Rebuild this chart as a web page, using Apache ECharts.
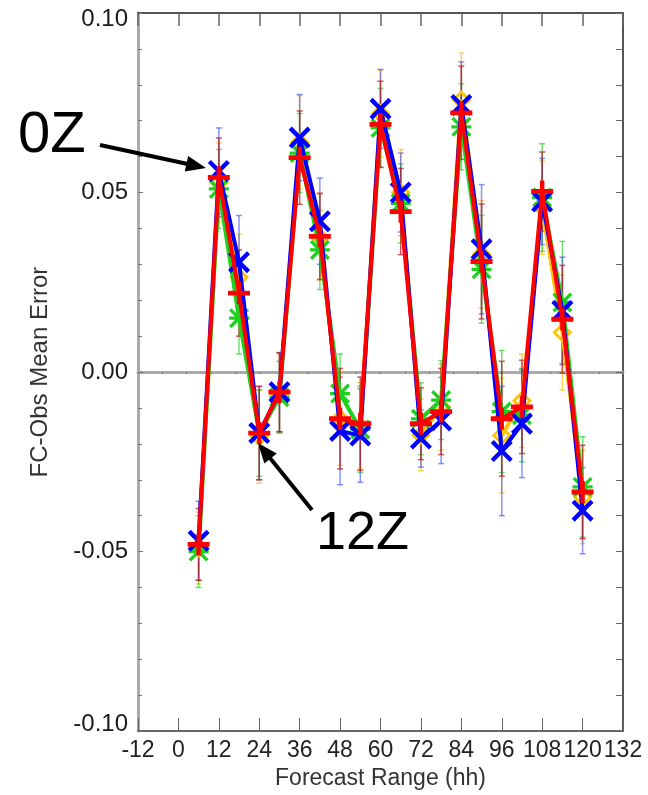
<!DOCTYPE html>
<html>
<head>
<meta charset="utf-8">
<script src="https://cdn.jsdelivr.net/npm/echarts@6/dist/echarts.min.js"></script>
<style>
html, body { margin: 0; padding: 0; background: #fff; }
#chart { width: 648px; height: 795px; }
</style>
</head>
<body>
<div id="chart"></div>
<script>
// forecast range (hh)
const hours = [6, 12, 18, 24, 30, 36, 42, 48, 54, 60, 66, 72, 78, 84, 90, 96, 102, 108, 114, 120];

// mean error per run
const blueMean   = [-0.047, 0.056, 0.0306, -0.017, -0.0056, 0.0653, 0.042, -0.0164, -0.0177, 0.0733, 0.050, -0.0185, -0.0135, 0.0744, 0.0342, -0.022, -0.0144, 0.0475, 0.017, -0.0386];
const redMean    = [-0.048, 0.0542, 0.022, -0.017, -0.0056, 0.0597, 0.0378, -0.013, -0.0144, 0.069, 0.0447, -0.0144, -0.011, 0.0722, 0.0308, -0.013, -0.0097, 0.0503, 0.0147, -0.0334];
const greenMean  = [-0.050, 0.051, 0.015, -0.017, -0.007, 0.061, 0.034, -0.006, -0.016, 0.068, 0.047, -0.013, -0.0078, 0.0683, 0.0286, -0.011, -0.012, 0.0486, 0.0194, -0.032];
const yellowMean = [-0.049, 0.0528, 0.0264, -0.018, -0.006, 0.064, 0.0375, -0.013, -0.015, 0.072, 0.050, -0.0175, -0.0097, 0.0758, 0.0328, -0.0177, -0.008, 0.0458, 0.011, -0.0348];

// half length of the error bars
const blueErr   = [0.011, 0.012, 0.013, 0.013, 0.011, 0.012, 0.012, 0.015, 0.013, 0.011, 0.011, 0.008, 0.012, 0.012, 0.018, 0.018, 0.015, 0.012, 0.015, 0.012];
const redErr    = [0.010, 0.011, 0.012, 0.013, 0.011, 0.013, 0.012, 0.014, 0.013, 0.012, 0.012, 0.010, 0.012, 0.013, 0.016, 0.016, 0.013, 0.011, 0.015, 0.013];
const greenErr  = [0.010, 0.011, 0.010, 0.012, 0.010, 0.011, 0.011, 0.011, 0.012, 0.011, 0.011, 0.010, 0.011, 0.012, 0.015, 0.017, 0.013, 0.015, 0.017, 0.014];
const yellowErr = [0.010, 0.011, 0.012, 0.013, 0.011, 0.013, 0.012, 0.013, 0.012, 0.012, 0.012, 0.010, 0.012, 0.013, 0.015, 0.016, 0.013, 0.013, 0.016, 0.013];

// marker shapes (IDL style psym)
const symX = 'path://M0,14 L14,0 L100,86 L86,100 Z M86,0 L100,14 L14,100 L0,86 Z';
const symPlus = 'path://M0,39 L100,39 L100,61 L0,61 Z M40,0 L60,0 L60,100 L40,100 Z';
const symStar = 'path://M0,12 L12,0 L100,88 L88,100 Z M88,0 L100,12 L12,100 L0,88 Z M0,42 L100,42 L100,58 L0,58 Z';
const symDiamond = 'path://M50,0 L100,50 L50,100 L0,50 Z M50,20 L20,50 L50,80 L80,50 Z';

const plain = '"Liberation Sans", Arial, sans-serif';

function errorBars(means, errs, color, z) {
    return {
        type: 'custom',
        z: z,
        silent: true,
        animation: false,
        data: hours.map((h, i) => [h, means[i] - errs[i], means[i] + errs[i]]),
        encode: { x: 0, y: [1, 2] },
        renderItem: function (params, api) {
            let lo = api.coord([api.value(0), api.value(1)]);
            let hi = api.coord([api.value(0), api.value(2)]);
            let cap = 3;
            let st = { stroke: color, lineWidth: 1.5 };
            return {
                type: 'group',
                children: [
                    { type: 'line', shape: { x1: lo[0], y1: lo[1], x2: hi[0], y2: hi[1] }, style: st },
                    { type: 'line', shape: { x1: lo[0] - cap, y1: lo[1], x2: lo[0] + cap, y2: lo[1] }, style: st },
                    { type: 'line', shape: { x1: hi[0] - cap, y1: hi[1], x2: hi[0] + cap, y2: hi[1] }, style: st }
                ]
            };
        }
    };
}

function meanLine(means, color, symbol, size, z) {
    return {
        type: 'line',
        z: z,
        animation: false,
        data: hours.map((h, i) => [h, means[i]]),
        symbol: symbol,
        symbolSize: size,
        showAllSymbol: true,
        lineStyle: { color: color, width: 4 },
        itemStyle: { color: color },
        emphasis: { disabled: true }
    };
}

function arrowHead(x1, y1, x2, y2, len, half) {
    let dx = x2 - x1, dy = y2 - y1;
    let d = Math.sqrt(dx * dx + dy * dy);
    let ux = dx / d, uy = dy / d;
    let bx = x2 - ux * len, by = y2 - uy * len;
    return [[x2, y2], [bx - uy * half, by + ux * half], [bx + uy * half, by - ux * half]];
}

function arrow(x1, y1, x2, y2) {
    let dx = x2 - x1, dy = y2 - y1;
    let d = Math.sqrt(dx * dx + dy * dy);
    let ex = x2 - dx / d * 14, ey = y2 - dy / d * 14;
    return [
        { type: 'line', shape: { x1: x1, y1: y1, x2: ex, y2: ey }, style: { stroke: '#000', lineWidth: 4 }, z: 100 },
        { type: 'polygon', shape: { points: arrowHead(x1, y1, x2, y2, 20, 8) }, style: { fill: '#000' }, z: 100 }
    ];
}

function yLabel(v) {
    if (Math.abs(v) < 1e-9) return '0.00';
    if (v > 0.099) return '{top|' + v.toFixed(2) + '}';
    if (v < -0.099) return '{bot|' + v.toFixed(2) + '}';
    return v.toFixed(2);
}

const chart = echarts.init(document.getElementById('chart'), null, { renderer: 'canvas' });

chart.setOption({
    animation: false,
    backgroundColor: '#fff',
    grid: { left: 138, top: 13, right: 25, bottom: 62, containLabel: false },
    xAxis: [
        {
            type: 'value', position: 'bottom', min: -12, max: 132, interval: 12,
            name: 'Forecast Range (hh)', nameLocation: 'middle', nameGap: 30,
            nameTextStyle: { fontFamily: plain, fontSize: 23, color: '#333' },
            axisLine: { onZero: false, lineStyle: { color: '#666', width: 2 } },
            axisTick: { inside: true, length: 13, lineStyle: { color: '#666', width: 1 } },
            axisLabel: { fontFamily: plain, fontSize: 23, color: '#222', margin: 8 },
            splitLine: { show: false }
        },
        {
            type: 'value', position: 'top', min: -12, max: 132, interval: 12,
            axisLine: { onZero: false, lineStyle: { color: '#555', width: 2 } },
            axisTick: { inside: true, length: 13, lineStyle: { color: '#666', width: 1.5 } },
            axisLabel: { show: false },
            splitLine: { show: false }
        },
        {
            // the zero line with its small ticks
            type: 'value', position: 'bottom', min: 0, max: 20, interval: 1,
            axisLine: { onZero: true, onZeroAxisIndex: 0, lineStyle: { color: '#aaa', width: 3 } },
            axisTick: { length: 2, lineStyle: { color: '#777', width: 1 } },
            axisLabel: { show: false },
            splitLine: { show: false }
        }
    ],
    yAxis: [
        {
            type: 'value', position: 'left', min: -0.1, max: 0.1, interval: 0.05,
            name: 'FC-Obs Mean Error', nameLocation: 'middle', nameGap: 86,
            nameTextStyle: { fontFamily: plain, fontSize: 24, color: '#333' },
            axisLine: { onZero: false, lineStyle: { color: '#aaa', width: 3 } },
            axisTick: { inside: true, length: 5, lineStyle: { color: '#777' } },
            minorTick: { show: true, splitNumber: 5, length: 4, lineStyle: { color: '#777' } },
            axisLabel: {
                fontFamily: plain, fontSize: 24, color: '#1a1a1a', margin: 10,
                formatter: yLabel,
                rich: {
                    top: { fontFamily: plain, fontSize: 24, color: '#1a1a1a', padding: [12, 0, 0, 0] },
                    bot: { fontFamily: plain, fontSize: 24, color: '#1a1a1a', padding: [0, 0, 14, 0] }
                }
            },
            splitLine: { show: false }
        },
        {
            type: 'value', position: 'right', min: -0.1, max: 0.1, interval: 0.05,
            axisLine: { onZero: false, lineStyle: { color: '#555', width: 2 } },
            axisTick: { inside: true, length: 7, lineStyle: { color: '#666' } },
            minorTick: { show: true, splitNumber: 5, length: 7, lineStyle: { color: '#666' } },
            axisLabel: { show: false },
            splitLine: { show: false }
        }
    ],
    series: [
        errorBars(yellowMean, yellowErr, 'rgba(255,190,0,0.65)', 1),
        errorBars(greenMean, greenErr, 'rgba(0,200,0,0.55)', 1),
        errorBars(blueMean, blueErr, 'rgba(40,60,255,0.55)', 1),
        errorBars(redMean, redErr, 'rgba(190,20,30,0.7)', 1),
        meanLine(yellowMean, '#ffc400', symDiamond, 20, 2),
        meanLine(greenMean, '#1fd11f', symStar, 20, 3),
        meanLine(blueMean, '#0000ff', symX, 22, 4),
        meanLine(redMean, '#ff0000', symPlus, 22, 5)
    ],
    graphic: [
        { type: 'text', x: 18, y: 136, z: 100, style: { text: '0Z', font: '58px ' + plain, fill: '#000', verticalAlign: 'middle' } },
        { type: 'text', x: 316, y: 534, z: 100, style: { text: '12Z', font: '54px ' + plain, fill: '#000', verticalAlign: 'middle' } }
    ].concat(arrow(100, 145, 206, 168), arrow(312, 510, 258, 443))
});
</script>
</body>
</html>
